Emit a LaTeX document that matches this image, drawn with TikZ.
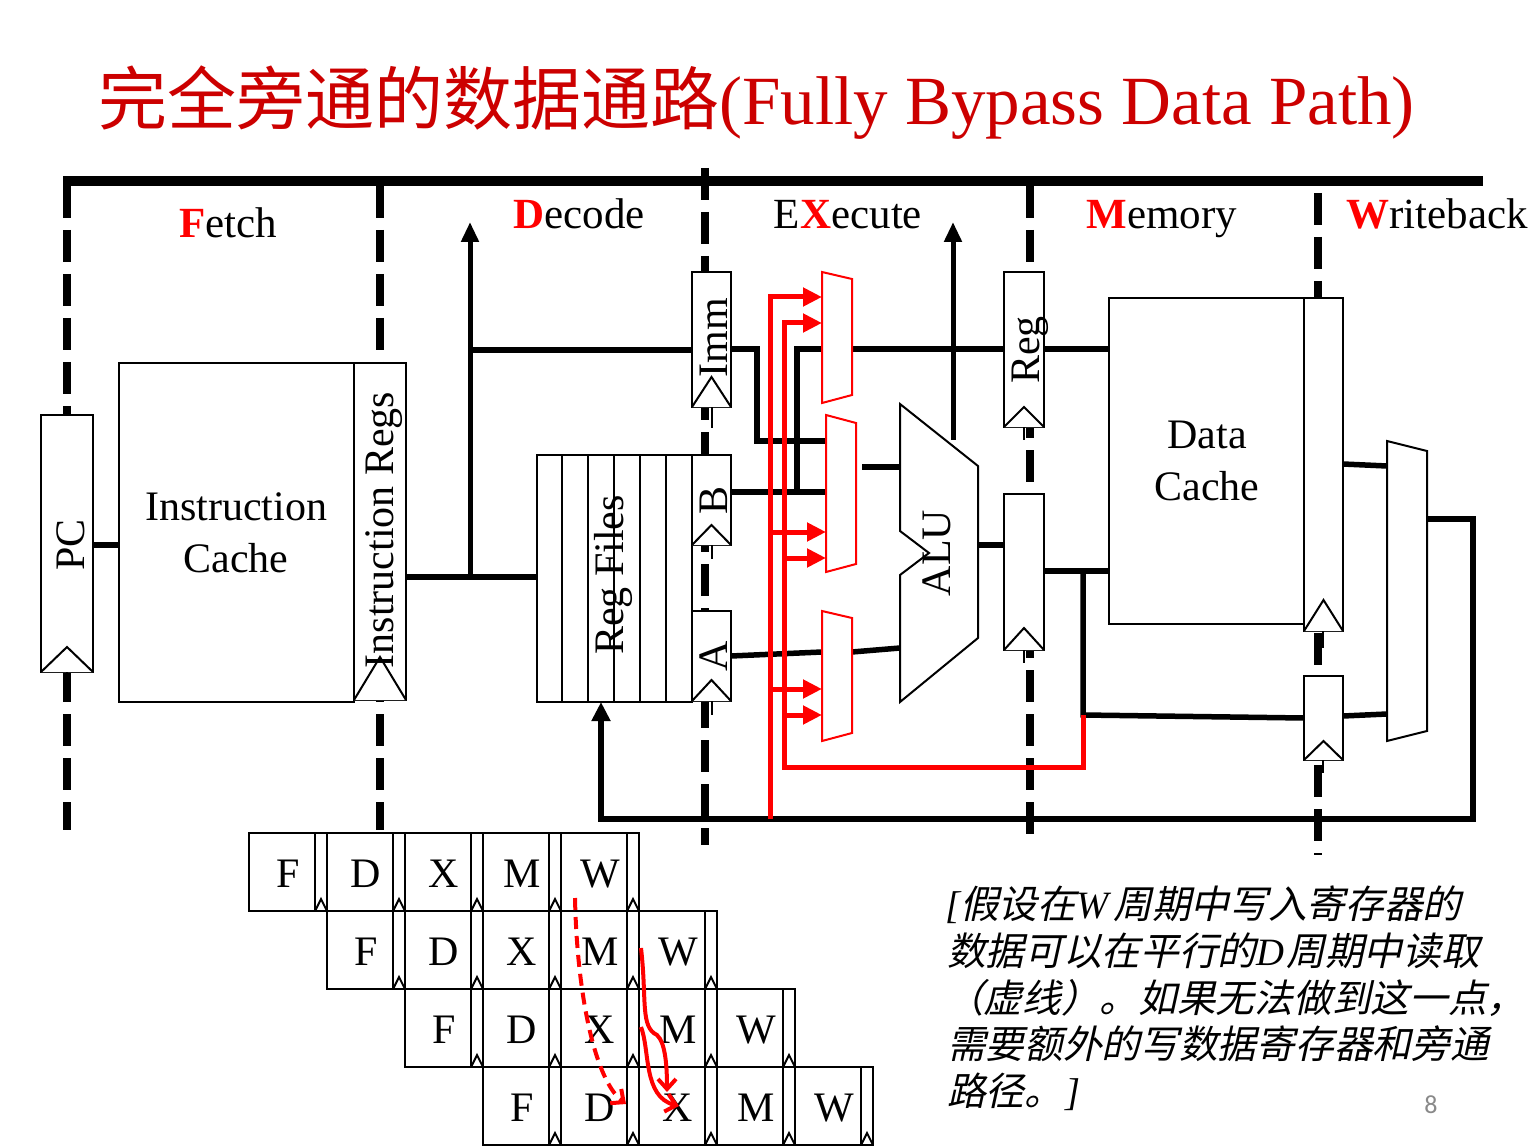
\documentclass[tikz,border=0pt]{standalone}
\usepackage{fontspec}
\setmainfont{Liberation Serif}
\newfontfamily\cjk{Noto Sans CJK SC}
\newfontfamily\cjkit{Noto Sans CJK SC}[FakeSlant=0.22]
\newfontfamily\pgnum{Carlito}
\usetikzlibrary{arrows.meta}
\definecolor{titlered}{RGB}{204,0,0}
\definecolor{bypred}{RGB}{255,0,0}
\definecolor{pggray}{RGB}{137,137,137}
\begin{document}
\begin{tikzpicture}[x=1pt,y=-1pt,
  box/.style={draw, line width=2pt, fill=white, inner sep=0pt, outer sep=0pt, anchor=north west},
  bus/.style={line width=5.5pt},
  stageline/.style={line width=7.5pt, dash pattern=on 32pt off 12pt},
  tick/.style={line width=1.6pt},
  clk/.style={draw, line width=2pt, fill=white},
  rbus/.style={draw=bypred, line width=5pt},
  rin/.style={rbus, -{Triangle[length=19pt,width=18pt]}},
  bup/.style={line width=5pt, -{Triangle[length=20pt,width=17pt]}},
  rmux/.style={draw=bypred, line width=2pt, fill=white},
  bmux/.style={draw, line width=2pt, fill=white},
  lbl/.style={font=\fontsize{42}{48}\selectfont, inner sep=0pt, outer sep=0pt},
  vlbl/.style={lbl, rotate=90, anchor=base},
  stagelbl/.style={font=\fontsize{43}{50}\selectfont, inner sep=0pt, anchor=base},
  cell/.style={draw, line width=2pt, inner sep=0pt, outer sep=0pt, anchor=north west, minimum width=66pt, minimum height=78pt},
  latch/.style={draw, line width=2pt, inner sep=0pt, outer sep=0pt, anchor=north west, minimum width=12pt, minimum height=78pt},
  note/.style={font=\fontsize{38.7}{46}\selectfont, inner sep=0pt, outer sep=0pt, anchor=base west, text height=30pt, text depth=5pt},
  rcurve/.style={draw=bypred, line width=4pt, -{Straight Barb[length=10pt,width=18pt]}},
]
\fill[white] (0,0) rectangle (1539,1147);
\path[use as bounding box] (0,0) rectangle (1539,1147);

% ---------- title ----------
\node[anchor=base west, inner sep=0pt, text=titlered, font=\fontsize{69}{80}\selectfont] (title) at (98,125) {{\cjk 完全旁通的数据通路}(Fully Bypass Data Path)};

% ---------- stage labels ----------
\node[stagelbl] (sf) at (228,238) {\textcolor{bypred}{\textbf{F}}etch};
\node[stagelbl] (sd) at (579,229) {\textcolor{bypred}{\textbf{D}}ecode};
\node[stagelbl] (sx) at (848,229) {E\textcolor{bypred}{\textbf{X}}ecute};
\node[stagelbl] (sm) at (1162,229) {\textcolor{bypred}{\textbf{M}}emory};
\node[stagelbl] (sw) at (1437,229) {\textcolor{bypred}{\textbf{W}}riteback};

% ---------- stage boundaries ----------
\draw[stageline] (67,186) -- (67,830);
\draw[stageline] (380,186) -- (380,830);
\draw[stageline] (705,168) -- (705,845);
\draw[stageline] (1030,186) -- (1030,835);
\draw[stageline] (1318,193) -- (1318,855);
\draw[line width=10pt] (63,181) -- (1483,181);

% ---------- boxes ----------
\node[box, minimum width=52pt, minimum height=257pt] (pc) at (41,415) {};
\node[box, minimum width=235pt, minimum height=339pt] (ic) at (119,363) {};
\node[box, minimum width=52pt, minimum height=337pt] (ir) at (354,363) {};
\node[box, minimum width=155pt, minimum height=247pt] (rf) at (537,455) {};
\node[box, minimum width=39pt, minimum height=135pt] (imm) at (692,272) {};
\node[box, minimum width=39pt, minimum height=90pt] (bb) at (692,455) {};
\node[box, minimum width=39pt, minimum height=90pt] (aa) at (692,611) {};
\node[box, minimum width=40pt, minimum height=155pt] (regm) at (1004,272) {};
\node[box, minimum width=40pt, minimum height=156pt] (regl) at (1004,494) {};
\node[box, minimum width=195pt, minimum height=326pt] (dc) at (1109,298) {};
\node[box, minimum width=39pt, minimum height=333pt] (wbu) at (1304,298) {};
\node[box, minimum width=39pt, minimum height=84pt] (wbl) at (1304,676) {};

\foreach \xx in {562,588,614,640,666} \draw[line width=2pt] (\xx,455) -- (\xx,702);

% clock triangles
\draw[clk] (41,672) -- (67,647) -- (93,672);
\draw[clk] (354,700) -- (380,657) -- (406,700);
\draw[clk] (692,407) -- (711.5,377) -- (731,407);
\draw[clk] (692,545) -- (711.5,525) -- (731,545);
\draw[clk] (692,701) -- (711.5,680) -- (731,701);
\draw[clk] (1004,427) -- (1024,407) -- (1044,427);
\draw[clk] (1004,650) -- (1024,628) -- (1044,650);
\draw[clk] (1304,631) -- (1323.5,600) -- (1343,631);
\draw[clk] (1304,760) -- (1323.5,741) -- (1343,760);
% clock ticks
\draw[tick] (67,672) -- (67,688);
\draw[tick] (712,407) -- (712,428);
\draw[tick] (712,545) -- (712,559);
\draw[tick] (712,701) -- (712,715);
\draw[tick] (1024,427) -- (1024,440);
\draw[tick] (1024,650) -- (1024,663);
\draw[tick] (1323,631) -- (1323,648);
\draw[tick] (1323,760) -- (1323,773);

% ---------- coordinates ----------
\coordinate (ypc) at (0,545);
\coordinate (j1) at (470,577);
\coordinate (j1t) at (470,222);
\coordinate (j2) at (470,350);
\coordinate (imo) at (757,349);
\coordinate (imd) at (757,441);
\coordinate (bj) at (797,492);
\coordinate (bu) at (797,349);
\coordinate (bt1) at (953,440);
\coordinate (bt2) at (953,222);
\coordinate (aluw) at (900,553);
\coordinate (alue) at (978,553);
\coordinate (aluo) at (978,545);
\coordinate (mj) at (1083,571);
\coordinate (mj2) at (1083,715);
\coordinate (mj3) at (1083,767);
\coordinate (r2c) at (784,767);
\coordinate (r2t) at (784,323);
\coordinate (r1b) at (770,819);
\coordinate (r1t) at (770,297);
\coordinate (m1w) at (822,338);
\coordinate (m1e) at (852,338);
\coordinate (m2w) at (826,493);
\coordinate (m2e) at (862,493);
\coordinate (m3w) at (822,676);
\coordinate (m3e) at (852,676);
\coordinate (wmw) at (1387,590);
\coordinate (wme) at (1427,590);
\coordinate (wr) at (1473,519);
\coordinate (wrb) at (1473,819);
\coordinate (rfa) at (601,819);
\coordinate (y464) at (0,464);
\coordinate (y466) at (0,466);
\coordinate (y467) at (0,467);
\coordinate (y532) at (0,532);
\coordinate (y558) at (0,558);
\coordinate (y648) at (0,648);
\coordinate (y652) at (0,652);
\coordinate (y656) at (0,656);
\coordinate (y689) at (0,689);
\coordinate (y714) at (0,714);
\coordinate (y715) at (0,715);
\coordinate (y716) at (0,716);
\coordinate (y718) at (0,718);

% ---------- black data paths ----------
\draw[bus] (pc.east |- ypc) -- (ic.west |- ypc);
\draw[bus] (ir.east |- j1) -- (rf.west |- j1);
\draw[bup] (j1) -- (j1t);
\draw[bus] (j2) -- (imm.west |- j2);
\draw[bus] (imm.east |- imo) -- (imo) -- (imd) -- (m2w |- imd);
\draw[bus] (bb.east |- bj) -- (m2w |- bj);
\draw[bus] (bj) -- (bu) -- (m1w |- bu);
\draw[bus] (m1e |- bu) -- (regm.west |- bu);
\draw[bus] (regm.east |- bu) -- (dc.west |- bu);
\draw[bup] (bt1) -- (bt2);
\draw[bus] (m2e |- y467) -- (aluw |- y467);
\draw[bus] (aa.east |- y656) -- (m3w |- y652);
\draw[bus] (m3e |- y652) -- (aluw |- y648);
\draw[bus] (alue |- aluo) -- (regl.west |- aluo);
\draw[bus] (regl.east |- mj) -- (dc.west |- mj);
\draw[bus] (mj) -- (mj2) -- (wbl.west |- y718);
\draw[bus] (wbu.east |- y464) -- (wmw |- y466);
\draw[bus] (wbl.east |- y716) -- (wmw |- y714);
\draw[bus, -{Triangle[length=19pt,width=18pt]}] (wme |- wr) -- (wr) -- (wrb) -- (rfa) -- (rf.south -| rfa);

% ---------- ALU and muxes ----------
\draw[bmux] (900,404) -- (978,466) -- (978,638) -- (900,702) -- (900,575) -- (929,553) -- (900,531) -- cycle;
\draw[bmux] (1387,441) -- (1427,451) -- (1427,731) -- (1387,741) -- cycle;

% ---------- red bypass paths ----------
\draw[rin] (r1b) -- (r1t) -- (m1w |- r1t);
\draw[rin] (r1b |- y532) -- (m2w |- y532);
\draw[rin] (r1b |- y689) -- (m3w |- y689);
\draw[rin] (mj2) -- (mj3) -- (r2c) -- (r2t) -- (m1w |- r2t);
\draw[rin] (r2c |- y558) -- (m2w |- y558);
\draw[rin] (r2c |- y715) -- (m3w |- y715);
\draw[rmux] (822,272) -- (852,279) -- (852,395) -- (822,403) -- cycle;
\draw[rmux] (826,415) -- (856,423) -- (856,564) -- (826,572) -- cycle;
\draw[rmux] (822,611) -- (852,618) -- (852,733) -- (822,741) -- cycle;

% ---------- labels ----------
\node[vlbl] (pct) at (84,545) {PC};
\node[vlbl] (irt) at (393,530) {Instruction Regs};
\node[vlbl] (rft) at (623,575) {Reg Files};
\node[vlbl] (immt) at (727,338) {Imm};
\node[vlbl] (bt) at (727,500) {B};
\node[vlbl] (at) at (727,656) {A};
\node[vlbl] (alut) at (950,553) {ALU};
\node[vlbl] (regt) at (1039,350) {Reg};
\node[lbl, anchor=base] (ict1) at (236,520) {Instruction};
\node[lbl, anchor=base] (ict2) at (236,572) {Cache};
\node[lbl, anchor=base] (dct1) at (1207,448) {Data};
\node[lbl, anchor=base] (dct2) at (1207,500) {Cache};

% ---------- pipeline table ----------
\foreach \rw in {0,1,2,3}{
  \foreach \lt [count=\ci from 0] in {F,D,X,M,W}{
    \pgfmathsetmacro{\cx}{249+78*(\rw+\ci)}
    \pgfmathsetmacro{\cy}{833+78*\rw}
    \node[cell] (c\rw\ci) at (\cx,\cy) {};
    \node[latch] (l\rw\ci) at (\cx+66,\cy) {};
    \draw[line width=2pt] (\cx+66,\cy+78) -- (\cx+72,\cy+66) -- (\cx+78,\cy+78);
    \node[lbl, anchor=base] (t\rw\ci) at (\cx+39,\cy+54) {\lt};
  }
}
\draw[rcurve, dash pattern=on 12pt off 7pt] (575,898) .. controls (577,995) and (595,1080) .. (626,1104);
\draw[rcurve] (641,948) .. controls (647,1000) and (640,1027) .. (657,1035) .. controls (666,1043) and (667,1070) .. (667,1092);
\draw[rcurve] (641,1027) .. controls (650,1050) and (643,1097) .. (679,1106);

% ---------- note ----------
\node[note] (n1) at (945,918) {{\itshape [}{\cjkit 假设在}{\itshape W\/}\kern2pt{\cjkit 周期中写入寄存器的}};
\node[note] (n2) at (947,965) {{\cjkit 数据可以在平行的}{\itshape D\/}\kern2pt{\cjkit 周期中读取}};
\node[note] (n3) at (945,1012) {{\cjkit （虚线）。如果无法做到这一点，}};
\node[note] (n4) at (947,1058) {{\cjkit 需要额外的写数据寄存器和旁通}};
\node[note] (n5) at (947,1105) {{\cjkit 路径。}\kern2pt{\itshape ]}};
\node[font=\pgnum\fontsize{26}{30}\selectfont, text=pggray, anchor=base, inner sep=0pt] (pg) at (1431,1113) {8};
\end{tikzpicture}
\end{document}
